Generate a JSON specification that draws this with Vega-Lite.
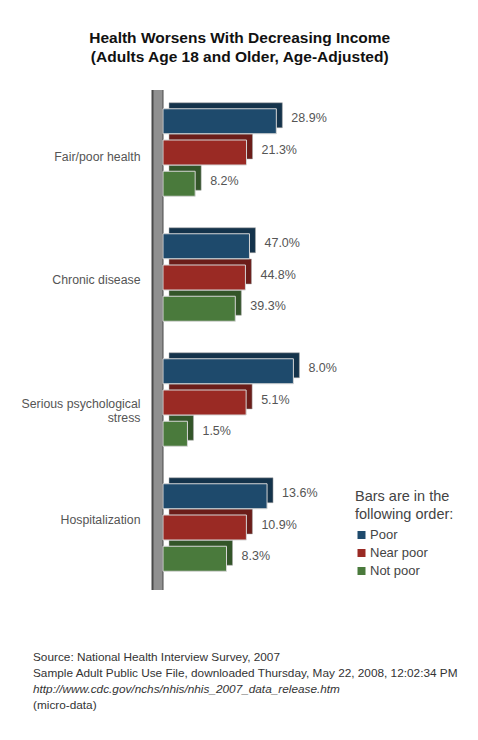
{
  "$schema": "https://vega.github.io/schema/vega-lite/v6.json",
  "background": "white",
  "padding": {"left": 21, "top": 30, "right": 5, "bottom": 5},
  "spacing": 0,
  "bounds": "flush",
  "datasets": {
    "health": [
      {"category": "Fair/poor health", "income": "Poor", "value": 0.289},
      {"category": "Fair/poor health", "income": "Near poor", "value": 0.213},
      {"category": "Fair/poor health", "income": "Not poor", "value": 0.082},
      {"category": "Chronic disease", "income": "Poor", "value": 0.470},
      {"category": "Chronic disease", "income": "Near poor", "value": 0.448},
      {"category": "Chronic disease", "income": "Not poor", "value": 0.393},
      {"category": "Serious psychological stress", "income": "Poor", "value": 0.080},
      {"category": "Serious psychological stress", "income": "Near poor", "value": 0.051},
      {"category": "Serious psychological stress", "income": "Not poor", "value": 0.015},
      {"category": "Hospitalization", "income": "Poor", "value": 0.136},
      {"category": "Hospitalization", "income": "Near poor", "value": 0.109},
      {"category": "Hospitalization", "income": "Not poor", "value": 0.083}
    ],
    "wall": [{"base": 0}],
    "footer": [
      {"n": 1, "style": "normal", "line": "Source: National Health Interview Survey, 2007"},
      {"n": 2, "style": "normal", "line": "Sample Adult Public Use File, downloaded Thursday, May 22, 2008, 12:02:34 PM"},
      {"n": 3, "style": "italic", "line": "http://www.cdc.gov/nchs/nhis/nhis_2007_data_release.htm"},
      {"n": 4, "style": "normal", "line": "(micro-data)"}
    ]
  },
  "title": {
    "text": ["Health Worsens With Decreasing Income", "(Adults Age 18 and Older, Age-Adjusted)"],
    "font": "Liberation Sans",
    "fontSize": 15.5,
    "fontWeight": "bold",
    "color": "#111111",
    "lineHeight": 19,
    "anchor": "middle",
    "offset": 19
  },
  "config": {
    "view": {"stroke": null},
    "font": "Liberation Sans",
    "axisY": {
      "labels": false, "ticks": false, "domain": false, "grid": false,
      "titleAngle": 0, "titleAlign": "right", "titleBaseline": "middle",
      "titleX": -23, "titleY": 64, "titleFontSize": 12.3, "titleFontWeight": "normal",
      "titleColor": "#555555", "titleFont": "Liberation Sans", "titleLineHeight": 14
    }
  },
  "vconcat": [
    {
      "width": 200, "height": 125,
      "layer": [
        {"data": {"name": "wall"}, "mark": {"type": "rule", "color": "#4a4a4a", "strokeWidth": 12, "xOffset": -5.5}, "encoding": {"x": {"field": "base", "type": "quantitative"}}},
        {"data": {"name": "wall"}, "mark": {"type": "rule", "color": "#909090", "strokeWidth": 9, "xOffset": -5}, "encoding": {"x": {"field": "base", "type": "quantitative"}}},
        {"data": {"name": "health"}, "transform": [{"filter": {"field": "category", "equal": "Fair/poor health"}}],
         "layer": [
          {"mark": {"type": "bar", "xOffset": 6, "yOffset": -6, "stroke": "#cccccc", "strokeWidth": 0.7},
           "encoding": {
             "x": {"field": "value", "type": "quantitative", "scale": {"domain": [0, 0.51], "nice": false}, "axis": null},
             "y": {"field": "income", "type": "nominal", "scale": {"domain": ["Poor", "Near poor", "Not poor"], "paddingInner": 0.2, "paddingOuter": 0.6}, "axis": {"title": "Fair/poor health", "titleY": 66}},
             "color": {"field": "income", "type": "nominal"}}},
          {"mark": {"type": "bar", "xOffset": 6, "yOffset": -6, "color": "black", "opacity": 0.3},
           "encoding": {"x": {"field": "value", "type": "quantitative"}, "y": {"field": "income", "type": "nominal"}}},
          {"mark": {"type": "bar", "stroke": "#d6d6d6", "strokeWidth": 1},
           "encoding": {"x": {"field": "value", "type": "quantitative"}, "y": {"field": "income", "type": "nominal"}, "color": {"field": "income", "type": "nominal"}}},
          {"mark": {"type": "text", "align": "left", "baseline": "middle", "dx": 15, "dy": -3, "fontSize": 12.5, "color": "#555555"},
           "encoding": {"x": {"field": "value", "type": "quantitative"}, "y": {"field": "income", "type": "nominal"}, "text": {"field": "value", "type": "quantitative", "format": ".1%"}}}
         ]}
      ]
    },
    {
      "width": 200, "height": 125,
      "layer": [
        {"data": {"name": "wall"}, "mark": {"type": "rule", "color": "#4a4a4a", "strokeWidth": 12, "xOffset": -5.5}, "encoding": {"x": {"field": "base", "type": "quantitative"}}},
        {"data": {"name": "wall"}, "mark": {"type": "rule", "color": "#909090", "strokeWidth": 9, "xOffset": -5}, "encoding": {"x": {"field": "base", "type": "quantitative"}}},
        {"data": {"name": "health"}, "transform": [{"filter": {"field": "category", "equal": "Chronic disease"}}],
         "layer": [
          {"mark": {"type": "bar", "xOffset": 6, "yOffset": -6, "stroke": "#cccccc", "strokeWidth": 0.7},
           "encoding": {
             "x": {"field": "value", "type": "quantitative", "scale": {"domain": [0, 1.087], "nice": false}, "axis": null},
             "y": {"field": "income", "type": "nominal", "scale": {"domain": ["Poor", "Near poor", "Not poor"], "paddingInner": 0.2, "paddingOuter": 0.6}, "axis": {"title": "Chronic disease", "titleY": 64}},
             "color": {"field": "income", "type": "nominal"}}},
          {"mark": {"type": "bar", "xOffset": 6, "yOffset": -6, "color": "black", "opacity": 0.3},
           "encoding": {"x": {"field": "value", "type": "quantitative"}, "y": {"field": "income", "type": "nominal"}}},
          {"mark": {"type": "bar", "stroke": "#d6d6d6", "strokeWidth": 1},
           "encoding": {"x": {"field": "value", "type": "quantitative"}, "y": {"field": "income", "type": "nominal"}, "color": {"field": "income", "type": "nominal"}}},
          {"mark": {"type": "text", "align": "left", "baseline": "middle", "dx": 15, "dy": -3, "fontSize": 12.5, "color": "#555555"},
           "encoding": {"x": {"field": "value", "type": "quantitative"}, "y": {"field": "income", "type": "nominal"}, "text": {"field": "value", "type": "quantitative", "format": ".1%"}}}
         ]}
      ]
    },
    {
      "width": 200, "height": 125,
      "layer": [
        {"data": {"name": "wall"}, "mark": {"type": "rule", "color": "#4a4a4a", "strokeWidth": 12, "xOffset": -5.5}, "encoding": {"x": {"field": "base", "type": "quantitative"}}},
        {"data": {"name": "wall"}, "mark": {"type": "rule", "color": "#909090", "strokeWidth": 9, "xOffset": -5}, "encoding": {"x": {"field": "base", "type": "quantitative"}}},
        {"data": {"name": "health"}, "transform": [{"filter": {"field": "category", "equal": "Serious psychological stress"}}],
         "layer": [
          {"mark": {"type": "bar", "xOffset": 6, "yOffset": -6, "stroke": "#cccccc", "strokeWidth": 0.7},
           "encoding": {
             "x": {"field": "value", "type": "quantitative", "scale": {"domain": [0, 0.1227], "nice": false}, "axis": null},
             "y": {"field": "income", "type": "nominal", "scale": {"domain": ["Poor", "Near poor", "Not poor"], "paddingInner": 0.2, "paddingOuter": 0.6}, "axis": {"title": ["Serious psychological", "stress"], "titleY": 63}},
             "color": {"field": "income", "type": "nominal"}}},
          {"mark": {"type": "bar", "xOffset": 6, "yOffset": -6, "color": "black", "opacity": 0.3},
           "encoding": {"x": {"field": "value", "type": "quantitative"}, "y": {"field": "income", "type": "nominal"}}},
          {"mark": {"type": "bar", "stroke": "#d6d6d6", "strokeWidth": 1},
           "encoding": {"x": {"field": "value", "type": "quantitative"}, "y": {"field": "income", "type": "nominal"}, "color": {"field": "income", "type": "nominal"}}},
          {"mark": {"type": "text", "align": "left", "baseline": "middle", "dx": 15, "dy": -3, "fontSize": 12.5, "color": "#555555"},
           "encoding": {"x": {"field": "value", "type": "quantitative"}, "y": {"field": "income", "type": "nominal"}, "text": {"field": "value", "type": "quantitative", "format": ".1%"}}}
         ]}
      ]
    },
    {
      "width": 200, "height": 125,
      "layer": [
        {"data": {"name": "wall"}, "mark": {"type": "rule", "color": "#4a4a4a", "strokeWidth": 12, "xOffset": -5.5}, "encoding": {"x": {"field": "base", "type": "quantitative"}}},
        {"data": {"name": "wall"}, "mark": {"type": "rule", "color": "#909090", "strokeWidth": 9, "xOffset": -5}, "encoding": {"x": {"field": "base", "type": "quantitative"}}},
        {"data": {"name": "health"}, "transform": [{"filter": {"field": "category", "equal": "Hospitalization"}}],
         "layer": [
          {"mark": {"type": "bar", "xOffset": 6, "yOffset": -6, "stroke": "#cccccc", "strokeWidth": 0.7},
           "encoding": {
             "x": {"field": "value", "type": "quantitative", "scale": {"domain": [0, 0.2614], "nice": false}, "axis": null},
             "y": {"field": "income", "type": "nominal", "scale": {"domain": ["Poor", "Near poor", "Not poor"], "paddingInner": 0.2, "paddingOuter": 0.6}, "axis": {"title": "Hospitalization", "titleY": 54}},
             "color": {"field": "income", "type": "nominal"}}},
          {"mark": {"type": "bar", "xOffset": 6, "yOffset": -6, "color": "black", "opacity": 0.3},
           "encoding": {"x": {"field": "value", "type": "quantitative"}, "y": {"field": "income", "type": "nominal"}}},
          {"mark": {"type": "bar", "stroke": "#d6d6d6", "strokeWidth": 1},
           "encoding": {"x": {"field": "value", "type": "quantitative"}, "y": {"field": "income", "type": "nominal"},
             "color": {"field": "income", "type": "nominal",
               "scale": {"domain": ["Poor", "Near poor", "Not poor"], "range": ["#1e4a6c", "#9a2a24", "#4a7a3c"]},
               "legend": {
                 "orient": "none", "legendX": 192, "legendY": 400,
                 "title": ["Bars are in the", "following order:"],
                 "titleFontSize": 14.5, "titleFontWeight": "normal", "titleColor": "#444444", "titleLineHeight": 18, "titlePadding": 6,
                 "labelFontSize": 13, "labelColor": "#444444", "labelOffset": 2,
                 "symbolType": "square", "symbolSize": 64, "symbolStrokeWidth": 0, "symbolOpacity": 1,
                 "rowPadding": 4
               }}}},
          {"mark": {"type": "text", "align": "left", "baseline": "middle", "dx": 15, "dy": -3, "fontSize": 12.5, "color": "#555555"},
           "encoding": {"x": {"field": "value", "type": "quantitative"}, "y": {"field": "income", "type": "nominal"}, "text": {"field": "value", "type": "quantitative", "format": ".1%"}}}
         ]}
      ]
    },
    {
      "width": 2, "height": 121,
      "data": {"name": "footer"},
      "encoding": {
        "y": {"field": "n", "type": "quantitative", "scale": {"domain": [-3.1875, 4.375], "reverse": true, "nice": false, "zero": false}, "axis": null},
        "text": {"field": "line", "type": "nominal"}
      },
      "layer": [
        {"transform": [{"filter": {"field": "style", "equal": "normal"}}],
         "mark": {"type": "text", "align": "left", "baseline": "middle", "dx": -131, "fontSize": 11.8, "color": "#333333", "font": "Liberation Sans"}},
        {"transform": [{"filter": {"field": "style", "equal": "italic"}}],
         "mark": {"type": "text", "align": "left", "baseline": "middle", "dx": -131, "fontSize": 11.8, "fontStyle": "italic", "color": "#333333", "font": "Liberation Sans"}}
      ]
    }
  ]
}
